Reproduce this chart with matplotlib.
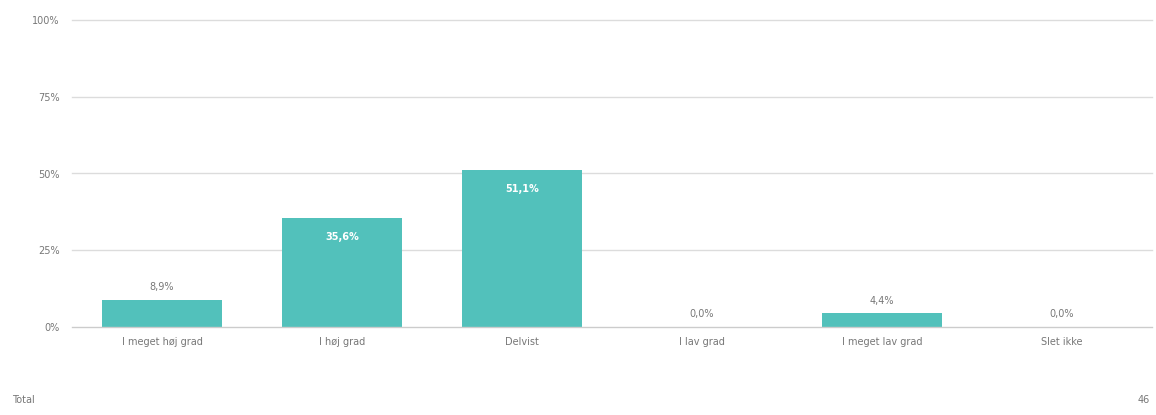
import matplotlib.pyplot as plt

categories = ["I meget høj grad", "I høj grad", "Delvist", "I lav grad", "I meget lav grad", "Slet ikke"]
values = [8.9, 35.6, 51.1, 0.0, 4.4, 0.0]
yticks = [0, 25, 50, 75, 100]
total_n = 46

teal = "#52c1bb"
grey = "#777777"

fig = plt.figure(figsize=(11.56, 4.15), dpi=100)
ax = fig.add_axes([72 / 1156, 1 - 327 / 415, 1080 / 1156, 307 / 415])

x = range(len(categories))
bars = ax.bar(x, values, width=0.67, color=teal, zorder=3)

# Value labels: inside the bar when tall enough, otherwise above.
for xi, v in zip(x, values):
    label = f"{v:.1f}%".replace(".", ",")
    if v > 20:
        ax.text(xi, v - 4.5, label, ha="center", va="top", color="white",
                fontsize=7, fontweight="bold")
    else:
        ax.text(xi, v + 2.5, label, ha="center", va="bottom", color=grey, fontsize=7)

ax.set_xlim(-0.5, len(categories) - 0.5)
ax.set_ylim(0, 100)
ax.set_yticks(yticks)
ax.set_yticklabels([f"{t}%" for t in yticks])
ax.set_xticks(list(x))
ax.set_xticklabels(categories)
ax.tick_params(axis="both", length=0, labelsize=7, colors=grey)
ax.tick_params(axis="y", pad=9)
ax.tick_params(axis="x", pad=7)
for t in yticks:
    ax.axhline(t, color="#cccccc" if t == 0 else "#dcdcdc", linewidth=1,
               zorder=0 if t else 4, clip_on=False)
for s in ax.spines.values():
    s.set_visible(False)

fig.text(12 / 1156, 1 - 400 / 415, "Total", color=grey, fontsize=7, va="center")
fig.text(1150 / 1156, 1 - 400 / 415, str(total_n), color=grey, fontsize=7,
         va="center", ha="right")

fig.savefig("out.png", dpi=100, facecolor="white")
